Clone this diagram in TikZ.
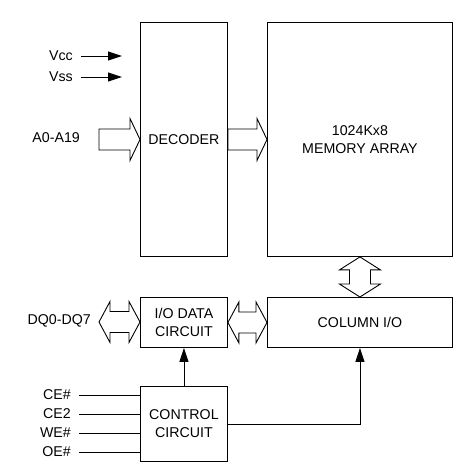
\documentclass[tikz,border=0pt]{standalone}
\usepackage{fontspec}
\setmainfont{Liberation Sans}
\usepackage{tikz}
\usetikzlibrary{calc,arrows.meta}

\begin{document}
\begin{tikzpicture}[x=1pt,y=-1pt,
    font=\fontsize{14.2}{18}\selectfont,
    blk/.style={draw, line width=0.9pt, anchor=north west, inner sep=0pt, align=center},
    pin/.style={inner sep=0pt, anchor=east},
    sig/.style={line width=0.9pt, -{Triangle[length=14pt,width=9pt]}},
    wire/.style={line width=0.9pt},
    busr/.style={line width=0.9pt, to path={($(\tikztostart)+(0,-10.5)$) -- ($(\tikztotarget)+(-10,-10.5)$)
        -- ++(0,-10.5) -- (\tikztotarget) -- ++(-10,21) -- ++(0,-10.5)
        -- ($(\tikztostart)+(0,10.5)$) -- cycle}},
    busd/.style={line width=0.9pt, to path={(\tikztostart) -- ++(11,-20.5) -- ++(0,10)
        -- ($(\tikztotarget)+(-11,-10.5)$) -- ++(0,-10) -- (\tikztotarget) -- ++(-11,20.5) -- ++(0,-10)
        -- ($(\tikztostart)+(11,10.5)$) -- ++(0,10) -- cycle}},
    busv/.style={line width=0.9pt, to path={(\tikztostart) -- ++(-20.5,13) -- ++(10,0)
        -- ($(\tikztotarget)+(-10.5,-13)$) -- ++(-10,0) -- (\tikztotarget) -- ++(20.5,-13) -- ++(-10,0)
        -- ($(\tikztostart)+(10.5,13)$) -- ++(10,0) -- cycle}}]
    \useasboundingbox (0,0) rectangle (474,469);

    % blocks
    \node [blk, minimum width=87pt, minimum height=234pt] (dec) at (140,22) {DECODER};
    \node [blk, minimum width=185pt, minimum height=234pt] (mem) at (267,22) {1024Kx8\\MEMORY ARRAY};
    \node [blk, minimum width=87pt, minimum height=50pt] (io) at (140,297) {I/O DATA\\CIRCUIT};
    \node [blk, minimum width=185pt, minimum height=50pt] (col) at (267,297) {COLUMN I/O};
    \node [blk, minimum width=87pt, minimum height=75pt] (ctl) at (140,386) {CONTROL\\CIRCUIT};

    % power pins
    \node [pin] (vcc) at (73,56) {Vcc};
    \node [pin] (vss) at (73,77) {Vss};
    \coordinate (vccend) at (122,56);
    \coordinate (vssend) at (122,77);
    \draw [sig] ([xshift=8pt]vcc.east) -- (vccend);
    \draw [sig] ([xshift=8pt]vss.east) -- (vssend);

    % address bus
    \node [pin] (addr) at (80,138) {A0-A19};
    \coordinate (ain) at (99,139.5);
    \draw [busr] (ain) to (ain -| dec.west);
    \draw [busr] (ain -| dec.east) to (ain -| mem.west);

    % data bus
    \node [pin] (dq) at (91,321) {DQ0-DQ7};
    \coordinate (dqin) at (99,322);
    \draw [busd] (dqin) to (dqin -| io.west);
    \draw [busd] (io.east) to (col.west);
    \draw [busv] (mem.south) to (col.north);

    % control pins
    \foreach \name/\txt/\y in {ce/CE\#/395, cetwo/CE2/414, we/WE\#/433, oe/OE\#/452} {
        \node [pin] (\name) at (71,\y) {\txt};
        \draw [wire] ([xshift=8pt]\name.east) -- (\name.east -| ctl.west);
    }
    \draw [sig] (ctl.north) -- (io.south);
    \draw [sig] (ctl.east) -| (col.south);
\end{tikzpicture}
\end{document}
